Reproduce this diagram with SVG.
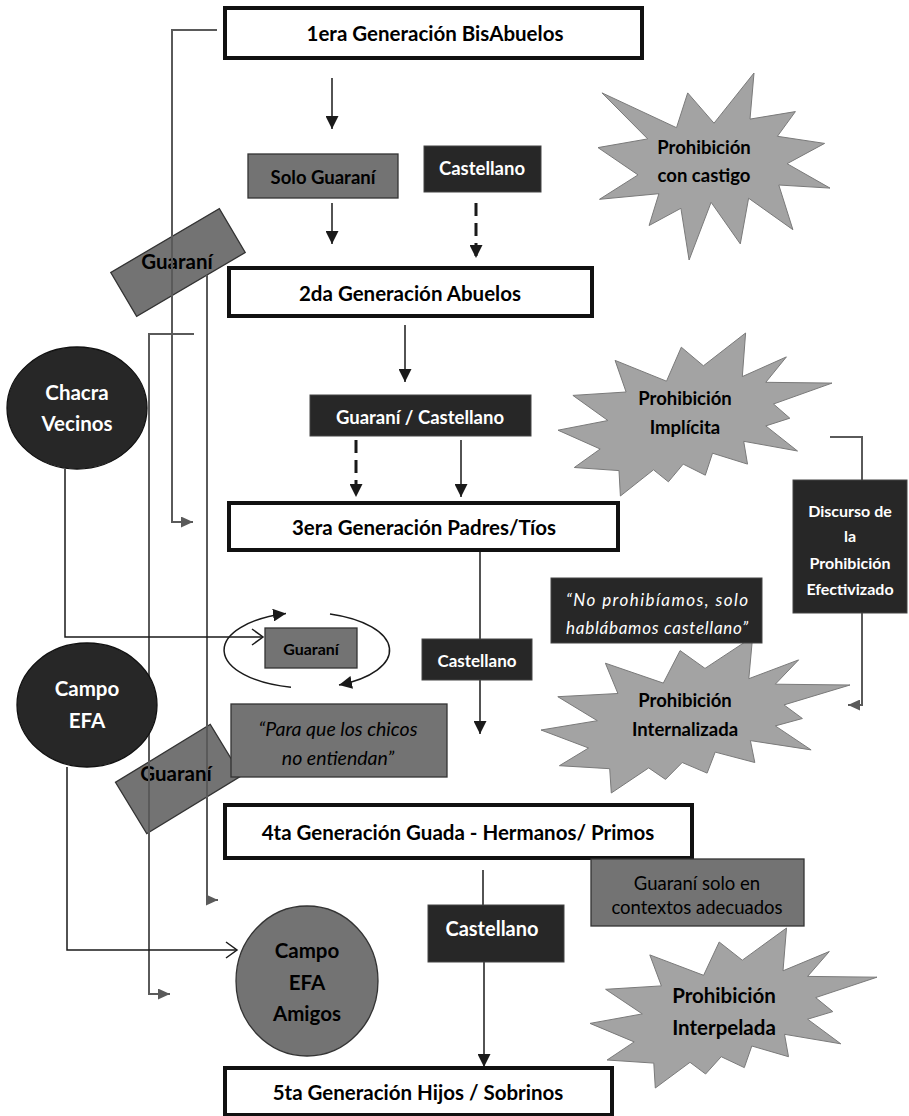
<svg xmlns="http://www.w3.org/2000/svg" width="909" height="1116" viewBox="0 0 909 1116">
<style>
text{font-family:"Lato","Open Sans",sans-serif;dominant-baseline:central;text-anchor:middle}
.b{font-weight:bold}
.i{font-style:italic}
.w{fill:#ffffff}
.k{fill:#000000}
.gen{fill:#ffffff;stroke:#111111;stroke-width:4}
.dark{fill:#272727;stroke:#444444;stroke-width:1}
.mid{fill:#737373;stroke:#333333;stroke-width:1.3}
.star{fill:#a3a3a3;stroke:#7a7a7a;stroke-width:1}
.cg{fill:none;stroke:#5a5a5a;stroke-width:2}
.ck{fill:none;stroke:#1a1a1a;stroke-width:1.5}
.cd{fill:none;stroke:#1a1a1a;stroke-width:3;stroke-dasharray:13 7}
</style>
<defs>
<marker id="ak" markerUnits="userSpaceOnUse" markerWidth="14" markerHeight="13" refX="13" refY="6.5" orient="auto"><path d="M0,0 L13,6.5 L0,13 z" fill="#1a1a1a"/></marker>
<marker id="ag" markerUnits="userSpaceOnUse" markerWidth="13" markerHeight="11" refX="12" refY="5.5" orient="auto"><path d="M0,0 L12,5.5 L0,11 z" fill="#5a5a5a"/></marker>
<marker id="ao" markerUnits="userSpaceOnUse" markerWidth="14" markerHeight="18" refX="12" refY="9" orient="auto"><path d="M1,1 L12,9 L1,17" fill="none" stroke="#1a1a1a" stroke-width="1.5"/></marker>
</defs>

<g id="star-castigo"><polygon class="star" points="714,123.2 754,73 750,119.1 795.4,111.6 777.4,136.3 824.6,143.4 787.1,163.7 830,188.1 778.8,185 792.9,229.7 748.6,198.2 740.3,243.9 711.1,202.3 689.1,260 680.9,208.3 649.1,225.5 658.9,193.7 599.5,199.3 638,174.9 598,147.6 647.7,138.9 602,92.9 676.5,127.7 687.7,92.9"/><text class="b k" x="704" y="147" font-size="18.5">Prohibición</text><text class="b k" x="704" y="175" font-size="18.5">con castigo</text></g>

<g id="star-implicita"><polygon class="star" points="703.4,365.8 745.6,333 742.3,376.6 786.4,356.9 765.8,382.3 832,383.1 773.5,404 789.8,418.2 765.8,425.9 797.5,451 743.7,441.3 747.5,464.1 712.5,453.2 705.3,475.2 683.2,464.1 668.4,481.8 653.5,469.8 620.4,496 619,470.6 574.3,467.5 600.2,449 558,430.2 607.9,420.5 572.9,395.4 626.1,392 615.1,360.4 666.5,381.2 681.3,347.2"/><text class="b k" x="685" y="398" font-size="18.5">Prohibición</text><text class="b k" x="685" y="427" font-size="18.5">Implícita</text></g>

<g id="star-internalizada"><polygon class="star" points="705,668.4 752.6,637 748.8,678.7 798.6,659.9 775.3,684.2 850,685 784,704.9 802.4,718.5 775.3,725.9 811.1,749.9 750.4,740.6 754.8,762.5 715.2,752.1 707.1,773.1 682.2,762.5 665.5,779.4 648.7,767.9 611.3,793 609.7,768.7 559.4,765.7 588.6,748 541,730 597.3,720.7 557.8,696.7 617.9,693.5 605.4,663.2 663.3,683.1 680.1,650.6"/><text class="b k" x="685" y="700" font-size="18.5">Prohibición</text><text class="b k" x="685" y="729" font-size="18.5">Internalizada</text></g>

<g id="star-interpelada"><polygon class="star" points="742.3,960.2 786.5,928 783,970.8 829.3,951.5 807.6,976.4 877,977.2 815.7,997.6 832.8,1011.6 807.6,1019.2 840.8,1043.8 784.5,1034.3 788.5,1056.7 751.8,1046 744.3,1067.6 721.2,1056.7 705.6,1074 690,1062.3 655.3,1088 653.8,1063.1 607.1,1060 634.2,1041.9 590,1023.4 642.3,1013.9 605.6,989.3 661.4,985.9 649.8,954.9 703.6,975.3 719.2,942"/><text class="b k" x="724" y="995" font-size="20.5">Prohibición</text><text class="b k" x="724" y="1027" font-size="20.5">Interpelada</text></g>

<g id="guarani-rot-1"><rect class="mid" x="115" y="237" width="126" height="51" transform="rotate(-30.5 178 262.5)"/><text class="b k" x="177" y="261" font-size="20.5">Guaraní</text></g>

<g id="guarani-rot-2"><rect class="mid" x="123" y="749" width="111" height="60" transform="rotate(-31.4 178.5 779)"/><text class="b k" x="176" y="773" font-size="20.5">Guaraní</text></g>

<g id="para-que"><rect class="mid" x="231" y="704" width="216" height="73"/><text class="i k" x="338" y="728" font-size="19.5">“Para que los chicos</text><text class="i k" x="338" y="757" font-size="19.5">no entiendan”</text></g>

<g id="connectors">
<path class="cg" d="M217,30 H172 V522 H193" marker-end="url(#ag)"/>
<path class="cg" d="M207,275 V900 H218" marker-end="url(#ag)"/>
<path class="cg" d="M194,334 H149 V994 H170" marker-end="url(#ag)"/>
<path class="cg" d="M830,437 H862 V480"/>
<path class="cg" d="M862,613 V705 H848" marker-end="url(#ag)"/>
<path class="ck" d="M332,78 V129" marker-end="url(#ak)"/>
<path class="ck" d="M332,203 V244" marker-end="url(#ak)"/>
<path class="cd" d="M476,203 V258" marker-end="url(#ak)"/>
<path class="ck" d="M405,325 V382" marker-end="url(#ak)"/>
<path class="cd" d="M356,440 V497" marker-end="url(#ak)"/>
<path class="ck" d="M461,440 V497" marker-end="url(#ak)"/>
<path class="ck" d="M480,550 V734" marker-end="url(#ak)"/>
<path class="ck" d="M483,870 V905"/>
<path class="ck" d="M484,962 V1067" marker-end="url(#ak)"/>
<path class="ck" d="M65,469 V637 H263" marker-end="url(#ao)"/>
<path class="ck" d="M67,767 V950 H237" marker-end="url(#ao)"/>
<path class="ck" d="M291,687.2 A85,38 0 0,1 286,613.5" marker-end="url(#ak)"/>
<path class="ck" d="M330,614 A85,38 0 0,1 339,685" marker-end="url(#ak)"/>
</g>

<g id="gen1"><rect class="gen" x="225" y="8" width="417" height="50"/><text class="b k" x="435" y="33" font-size="20.5">1era Generación BisAbuelos</text></g>
<g id="solo-guarani"><rect class="mid" x="248" y="154" width="150" height="44"/><text class="b k" x="323" y="177" font-size="18.5">Solo Guaraní</text></g>
<g id="castellano-1"><rect class="dark" x="424" y="146" width="117" height="46"/><text class="b w" x="482" y="168" font-size="18.5">Castellano</text></g>
<g id="gen2"><rect class="gen" x="229" y="268" width="363" height="48"/><text class="b k" x="410" y="293" font-size="20.5">2da Generación Abuelos</text></g>
<g id="guarani-castellano"><rect class="dark" x="310" y="395" width="221" height="41"/><text class="b w" x="420" y="417" font-size="18.5">Guaraní / Castellano</text></g>
<g id="gen3"><rect class="gen" x="229" y="503" width="389" height="47"/><text class="b k" x="424" y="527" font-size="20.5">3era Generación Padres/Tíos</text></g>
<g id="chacra"><ellipse cx="77" cy="408" rx="70" ry="61" fill="#272727" stroke="#111111" stroke-width="1.3"/><text class="b w" x="77" y="392" font-size="20.5">Chacra</text><text class="b w" x="77" y="423" font-size="20.5">Vecinos</text></g>
<g id="campo-efa"><ellipse cx="87" cy="705" rx="70" ry="62" fill="#272727" stroke="#111111" stroke-width="1.3"/><text class="b w" x="87" y="688" font-size="20.5">Campo</text><text class="b w" x="87" y="720" font-size="20.5">EFA</text></g>
<g id="guarani-small"><rect class="mid" x="265" y="628" width="92" height="40"/><text class="b k" x="311" y="648" font-size="16">Guaraní</text></g>
<g id="castellano-2"><rect class="dark" x="422" y="639" width="110" height="41"/><text class="b w" x="477" y="660" font-size="17">Castellano</text></g>
<g id="quote-no-prohibiamos"><rect class="dark" x="551" y="578" width="211" height="65"/><text class="i w" x="566" y="599" font-size="17" style="text-anchor:start" textLength="182" lengthAdjust="spacing">“No prohibíamos, solo</text><text class="i w" x="566" y="627" font-size="17" style="text-anchor:start" textLength="182" lengthAdjust="spacing">hablábamos castellano”</text></g>
<g id="discurso"><rect class="dark" x="793" y="480" width="114" height="133" fill="#222222"/><text class="b w" x="850" y="510" font-size="16">Discurso de</text><text class="b w" x="850" y="535" font-size="16">la</text><text class="b w" x="850" y="562" font-size="16">Prohibición</text><text class="b w" x="850" y="588" font-size="16">Efectivizado</text></g>
<g id="gen4"><rect class="gen" x="225" y="805" width="467" height="53"/><text class="b k" x="458" y="832" font-size="20.5">4ta Generación Guada - Hermanos/ Primos</text></g>
<g id="guarani-contextos"><rect class="mid" x="591" y="859" width="213" height="67"/><text class="k" x="697" y="883" font-size="18.5">Guaraní solo en</text><text class="k" x="697" y="907" font-size="18.5">contextos adecuados</text></g>
<g id="castellano-3"><rect class="dark" x="428" y="905" width="136" height="57"/><text class="b w" x="492" y="928" font-size="20">Castellano</text></g>
<g id="campo-efa-amigos"><ellipse cx="307" cy="981" rx="71" ry="75" fill="#737373" stroke="#333333" stroke-width="1.3"/><text class="b k" x="307" y="950" font-size="20.5">Campo</text><text class="b k" x="307" y="982" font-size="20.5">EFA</text><text class="b k" x="307" y="1013" font-size="20.5">Amigos</text></g>
<g id="gen5"><rect class="gen" x="225" y="1068" width="387" height="47"/><text class="b k" x="418" y="1092" font-size="20.5">5ta Generación Hijos / Sobrinos</text></g>
</svg>
